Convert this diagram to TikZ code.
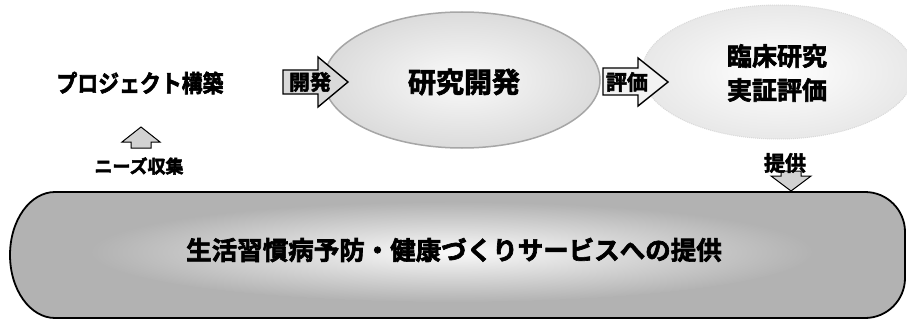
\documentclass[tikz,border=0pt]{standalone}
\usepackage{fontspec}
\setmainfont{Noto Sans CJK JP}[BoldFont={Noto Sans CJK JP Bold}, BoldFeatures={FakeBold=2.5}]
\begin{document}
\begin{tikzpicture}[x=1pt,y=-1pt,
  lbl/.style={font=\bfseries\fontsize{#1}{#1}\selectfont, inner sep=0pt},
  blockarrow/.style={draw=black, line width=1.4pt, line join=miter},
  smallarrow/.style={draw=black, line width=1pt, fill=gray!35, line join=miter},
]
\useasboundingbox (0,0) rectangle (907,321);
\fill[white] (0,0) rectangle (907,321);
\def\bannerpath{(55,192) -- (865,192) arc[start angle=270, end angle=360, radius=40]
  -- (905,278) arc[start angle=0, end angle=90, radius=40]
  -- (55,318) arc[start angle=90, end angle=270, x radius=45, y radius=63] -- cycle}

% right ellipse (clinical research)
\shade[inner color=white, outer color=gray!18] (778,72) ellipse [x radius=136, y radius=67];
\draw[gray!30, line width=1pt, densely dotted] (778,72) ellipse [x radius=136, y radius=67];
% left ellipse (R&D)
\shade[inner color=gray!4, outer color=gray!28] (462,80) ellipse [x radius=138, y radius=68];
\draw[gray!70, line width=1.5pt] (462,80) ellipse [x radius=138, y radius=68];

% block arrows
\path[blockarrow, fill=gray!30] (283,70) -- (318,70) -- (318,57) -- (348,82) -- (318,107) -- (318,94) -- (283,94) -- cycle;
\path[blockarrow, fill=gray!10] (603,68) -- (638,68) -- (638,58) -- (668,82) -- (638,106) -- (638,95) -- (603,95) -- cycle;

% banner
\path[fill=gray!60] \bannerpath;
\begin{scope}
  \clip \bannerpath;
  \shade[inner color=gray!4, outer color=gray!60] (452,252) ellipse [x radius=360, y radius=50];
\end{scope}
\draw[black, line width=1.8pt] \bannerpath;

% small arrows
\path[smallarrow] (131,148) -- (131,142) -- (122,142) -- (141,127) -- (160,142) -- (151,142) -- (151,148) -- cycle;
\path[smallarrow] (781,171) -- (801,171) -- (801,176) -- (811,176) -- (791,191) -- (771,176) -- (781,176) -- cycle;

% texts
\node[lbl=24] (proj) at (140,83) {\scalebox{0.87}[1]{プロジェクト構築}};
\node[lbl=28] (kenkyu) at (464,82) {研究開発};
\node[font=\bfseries\fontsize{25}{34}\selectfont, inner sep=0pt, align=center] (rinsho) at (777,73) {臨床研究\\実証評価};
\node[lbl=21] (kaihatsu) at (310,82) {開発};
\node[lbl=21] (hyoka) at (627,82) {評価};
\node[lbl=18] (needs) at (139,166) {ニーズ収集};
\node[lbl=21] (teikyo) at (785,163) {提供};
\node[lbl=25.5] (service) at (454,250) {生活習慣病予防・健康づくりサービスへの提供};
\end{tikzpicture}
\end{document}
